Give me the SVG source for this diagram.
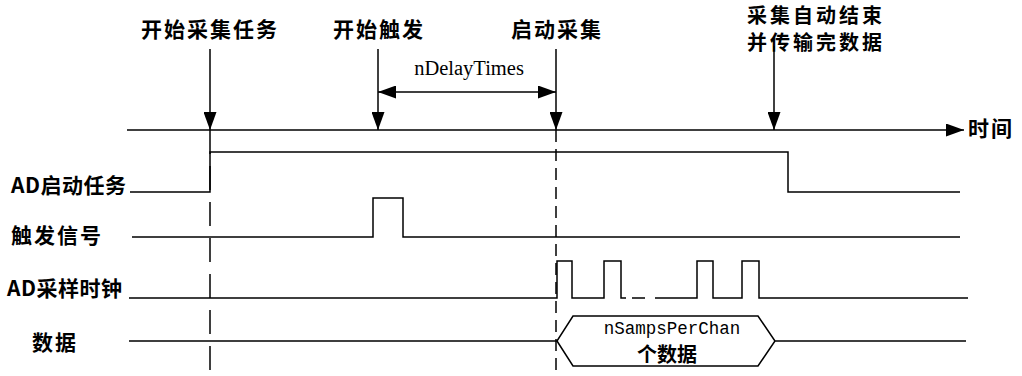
<svg xmlns="http://www.w3.org/2000/svg" width="1022" height="376" viewBox="0 0 1022 376">
<style>
.cn{font-family:"Noto Sans CJK SC","Noto Sans",sans-serif;font-size:21px;font-weight:600;fill:#000;letter-spacing:2px}
.lat{font-family:"Liberation Serif",serif;font-size:20.5px;fill:#000}
.mono{font-family:"Liberation Mono",monospace;font-size:17.5px;fill:#000}
.ln{fill:none;stroke:#000;stroke-width:1.5}
.dash{fill:none;stroke:#000;stroke-width:1.5;stroke-dasharray:24 12}
</style>
<defs>
<marker id="ah" markerUnits="userSpaceOnUse" markerWidth="18" markerHeight="13" refX="18" refY="6.5" orient="auto-start-reverse">
<path d="M0,0 L18,6.5 L0,13 Z" fill="#000"/>
</marker>
</defs>
<rect width="1022" height="376" fill="#fff"/>
<g id="connectors">
<line id="time-axis" class="ln" x1="127" y1="130" x2="964" y2="130" marker-end="url(#ah)"/>
<line class="ln" x1="210" y1="49" x2="210" y2="130" marker-end="url(#ah)"/>
<line class="ln" x1="378" y1="49" x2="378" y2="130" marker-end="url(#ah)"/>
<line class="ln" x1="556" y1="49" x2="556" y2="130" marker-end="url(#ah)"/>
<line class="ln" x1="774" y1="46" x2="774" y2="130" marker-end="url(#ah)"/>
<line class="ln" x1="378" y1="92" x2="556" y2="92" marker-start="url(#ah)" marker-end="url(#ah)"/>
<line class="dash" x1="210" y1="130" x2="210" y2="376"/>
<line class="dash" x1="556" y1="130" x2="556" y2="376" style="stroke-dasharray:12 7"/>
</g>
<g id="labels-top">
<text class="cn" x="210" y="37" text-anchor="middle">开始采集任务</text>
<text class="cn" x="379" y="37" text-anchor="middle">开始触发</text>
<text class="cn" x="557" y="37" text-anchor="middle">启动采集</text>
<text class="cn" x="816" y="23" text-anchor="middle" style="font-size:20px;letter-spacing:3px">采集自动结束</text>
<text class="cn" x="816" y="50" text-anchor="middle" style="font-size:20px;letter-spacing:3px">并传输完数据</text>
<text class="cn" x="968" y="136">时间</text>
<text class="lat" x="469" y="75" text-anchor="middle">nDelayTimes</text>
</g>
<g id="sig-ad-task">
<text class="cn" x="11" y="193" style="letter-spacing:0.5px">AD启动任务</text>
<path class="ln" d="M130,192 H210 V152 H788 V192 H960"/>
</g>
<g id="sig-trigger">
<text class="cn" x="11" y="243">触发信号</text>
<path class="ln" d="M132,237 H373 V198 H403 V237 H960"/>
</g>
<g id="sig-clock">
<text class="cn" x="7" y="296" style="letter-spacing:0.5px">AD采样时钟</text>
<path class="ln" d="M129,298 H557 V261 H572 V298 H604 V261 H621 V298 H626 M632,298 H645 M655,298 H697 V261 H713 V298 H742 V261 H759 V298 H968"/>
</g>
<g id="sig-data">
<text class="cn" x="32" y="350">数据</text>
<path class="ln" d="M129,341 H557 L573,316 H758 L775,341 L758,366 H573 L557,341 M775,341 H966"/>
<text class="mono" x="672" y="334" text-anchor="middle">nSampsPerChan</text>
<text class="cn" x="667" y="362" text-anchor="middle" style="font-size:20px;letter-spacing:0">个数据</text>
</g>
</svg>
